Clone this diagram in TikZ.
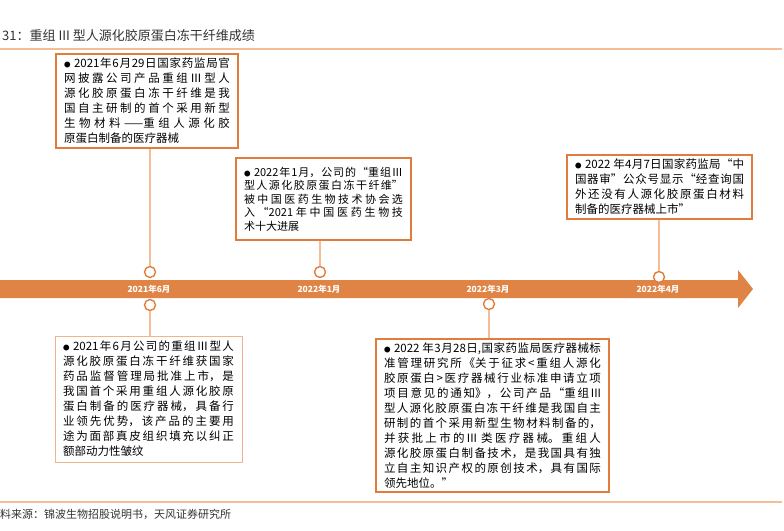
\documentclass[tikz,border=0pt]{standalone}
\usepackage{fontspec}
\setmainfont{Noto Sans CJK SC}
\XeTeXlinebreaklocale "zh"
\XeTeXlinebreakskip=0pt plus 2pt
\definecolor{barorange}{HTML}{E08446}
\definecolor{boxorange}{HTML}{E07D3C}
\definecolor{lineorange}{HTML}{F5BD96}
\definecolor{paleorange}{HTML}{F0B48E}
\definecolor{titlegray}{HTML}{333333}
\newcommand{\itembullet}{\hangindent=10pt\hangafter=1\makebox[10pt][l]{\fontsize{6.5}{6.5}\selectfont ●}}

\begin{document}
\begin{tikzpicture}[x=1pt, y=-1pt,
  every node/.style={font=\fontsize{11.5}{15}\selectfont},
  infobox/.style={draw=boxorange, line width=1.6pt, align=justify, inner xsep=8pt, inner ysep=0pt},
  tickring/.style={circle, draw=boxorange, line width=1.4pt, fill=white, minimum size=11pt, inner sep=0pt},
  conn/.style={draw=lineorange, line width=1.5pt},
  datelabel/.style={text=white, font=\fontsize{8.5}{10}\selectfont\bfseries}]
\useasboundingbox (0,0) rectangle (784,530);
% title and rules
\node[anchor=west, inner sep=0pt, text=titlegray, font=\fontsize{13}{15}\selectfont] (title) at (2,36) {31：重组 III 型人源化胶原蛋白冻干纤维成绩};
\draw[lineorange, line width=1.5pt] (0,49) -- (782,49);
\draw[lineorange, line width=1.5pt] (0,502) -- (782,502);
\node[anchor=west, inner sep=0pt, text=titlegray, font=\fontsize{11}{13}\selectfont] (source) at (0,514) {料来源：锦波生物招股说明书，天风证券研究所};
% timeline arrow
\fill[barorange] (0,280) -- (738,280) -- (738,270) -- (753,289) -- (738,308) -- (738,298) -- (0,298) -- cycle;
\node[datelabel] (d1) at (149,289) {2021年6月};
\node[datelabel] (d2) at (319,289) {2022年1月};
\node[datelabel] (d3) at (488,289) {2022年3月};
\node[datelabel] (d4) at (658,289) {2022年4月};
% rings on the arrow
\node[tickring] (u1) at (150,272) {};
\node[tickring] (u2) at (320,272) {};
\node[tickring] (u4) at (659,277) {};
\node[tickring] (l1) at (150,305) {};
\node[tickring] (l3) at (489,304) {};
% boxes above
\node[infobox, text width=166pt, minimum height=94pt] (b1) at (147,101) {\itembullet 2021年6月29日国家药监局官\linebreak 网披露公司产品重组Ⅲ型人\linebreak 源化胶原蛋白冻干纤维是我\linebreak 国自主研制的首个采用新型\linebreak 生物材料——重组人源化胶\linebreak 原蛋白制备的医疗器械};
\node[infobox, text width=159pt, minimum height=82pt, font=\fontsize{11}{13.4}\selectfont] (b2) at (323.5,199) {\itembullet 2022年1月，公司的“重组Ⅲ\linebreak 型人源化胶原蛋白冻干纤维”\linebreak 被中国医药生物技术协会选\linebreak 入“2021年中国医药生物技\linebreak 术十大进展};
\node[infobox, text width=169pt, minimum height=64pt] (b3) at (659.5,187) {\itembullet 2022 年4月7日国家药监局“中\linebreak 国器审”公众号显示“经查询国\linebreak 外还没有人源化胶原蛋白材料\linebreak 制备的医疗器械上市”};
% boxes below
\node[infobox, draw=paleorange, line width=1pt, text width=171pt, minimum height=126pt] (b4) at (148.5,399) {\itembullet 2021年6月公司的重组Ⅲ型人\linebreak 源化胶原蛋白冻干纤维获国家\linebreak 药品监督管理局批准上市，是\linebreak 我国首个采用重组人源化胶原\linebreak 蛋白制备的医疗器械，具备行\linebreak 业领先优势，该产品的主要用\linebreak 途为面部真皮组织填充以纠正\linebreak 额部动力性皱纹};
\node[infobox, text width=217pt, minimum height=153pt] (b5) at (492.5,415.5) {\itembullet 2022 年3月28日,国家药监局医疗器械标\linebreak 准管理研究所《关于征求<重组人源化\linebreak 胶原蛋白>医疗器械行业标准申请立项\linebreak 项目意见的通知》，公司产品“重组III\linebreak 型人源化胶原蛋白冻干纤维是我国自主\linebreak 研制的首个采用新型生物材料制备的，\linebreak 并获批上市的III 类医疗器械。重组人\linebreak 源化胶原蛋白制备技术，是我国具有独\linebreak 立自主知识产权的原创技术，具有国际\linebreak 领先地位。”};
% connectors
\draw[conn] (u1.north) -- (u1.north |- b1.south);
\draw[conn] (u2.north) -- (u2.north |- b2.south);
\draw[conn] (u4.north) -- (u4.north |- b3.south);
\draw[conn] (l1.south) -- (l1.south |- b4.north);
\draw[conn] (l3.south) -- (l3.south |- b5.north);
\end{tikzpicture}
\end{document}
